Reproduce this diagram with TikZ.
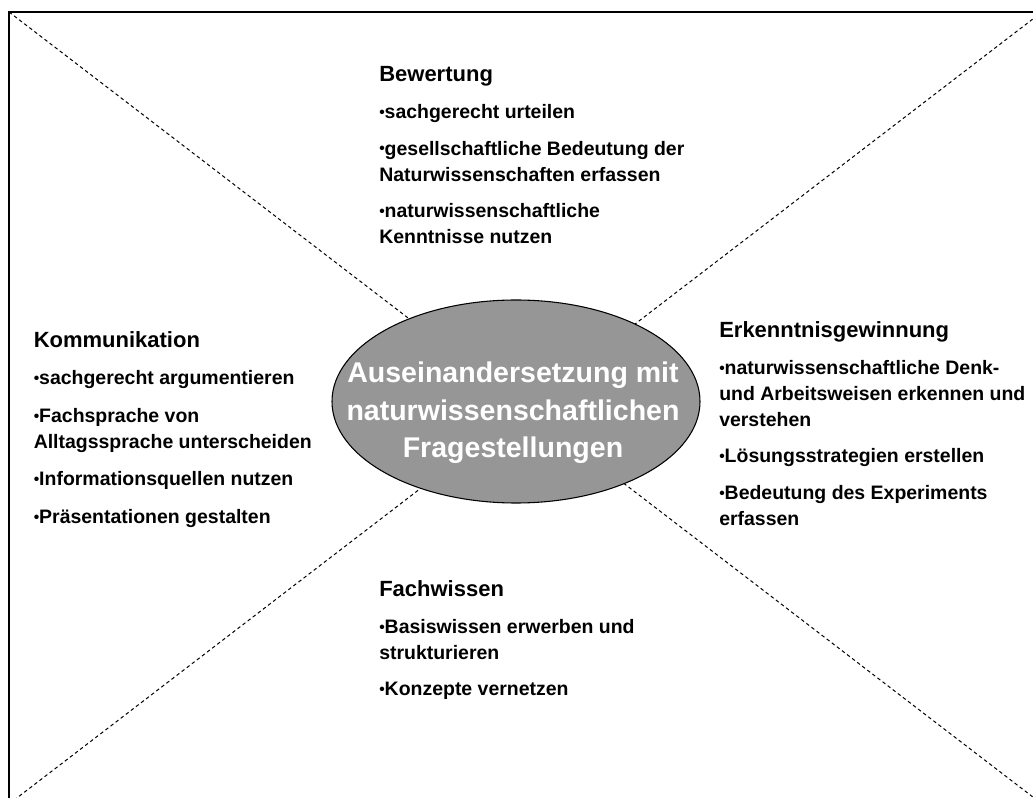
\documentclass[tikz,border=0pt]{standalone}
\usepackage{fontspec}
\usepackage{graphicx}
\setmainfont{Liberation Sans}
\usetikzlibrary{shapes.geometric}
\newcommand{\dotitem}{\raisebox{0.06em}{\scalebox{0.8}{\textbullet}}}
\newcommand{\headsize}{\fontsize{16.5}{19.5}\selectfont}

\begin{document}
\begin{tikzpicture}[x=0.75pt,y=-0.75pt,
  diag/.style={dash pattern=on 2.6pt off 2.2pt,line width=0.75pt},
  block/.style={anchor=north west,inner sep=0pt,align=left,
    font=\fontsize{14.6}{19.5}\selectfont\bfseries},
  core/.style={ellipse,draw,fill=black!41,line width=0.8pt,
    minimum width=276pt,minimum height=152.25pt,inner sep=0pt}]

\useasboundingbox (0,0) rectangle (1033,798);
\clip (0,0) rectangle (1033,798);

% frame and diagonals
\coordinate (tl) at (9,12);
\coordinate (tr) at (1042,12);
\coordinate (bl) at (9,804);
\coordinate (br) at (1042,804);
\draw[line width=0.8pt] (tl) rectangle (br);
\foreach \a/\b in {tl/br,bl/tr}{%
\draw[diag] (\a) -- (\b);
}

% centre
\node[core] (core) at (516,401.5) {};
\node[text=white,align=center,inner sep=0pt,
  font=\fontsize{21.4}{28.1}\selectfont\bfseries] (coretext) at (513,413)
  {Auseinandersetzung mit\\naturwissenschaftlichen\\Fragestellungen};

% the four fields
\node[block] (bewertung) at (379,66)
  {{\headsize Bewertung}\\[8.25pt]
   \dotitem sachgerecht urteilen\\[8pt]
   \dotitem gesellschaftliche Bedeutung der\\
   Naturwissenschaften erfassen\\[8pt]
   \dotitem naturwissenschaftliche\\
   Kenntnisse nutzen};

\node[block] (kommunikation) at (33.5,331)
  {{\headsize Kommunikation}\\[8.75pt]
   \dotitem sachgerecht argumentieren\\[8.5pt]
   \dotitem Fachsprache von\\
   Alltagssprache unterscheiden\\[8.5pt]
   \dotitem Informationsquellen nutzen\\[9pt]
   \dotitem Präsentationen gestalten};

\node[block] (erkenntnis) at (719,321)
  {{\headsize Erkenntnisgewinnung}\\[8.25pt]
   \dotitem naturwissenschaftliche Denk-\\
   und Arbeitsweisen erkennen und\\
   verstehen\\[8pt]
   \dotitem Lösungsstrategien erstellen\\[8pt]
   \dotitem Bedeutung des Experiments\\
   erfassen};

\node[block] (fachwissen) at (379,580)
  {{\headsize Fachwissen}\\[8.25pt]
   \dotitem Basiswissen erwerben und\\
   strukturieren\\[8pt]
   \dotitem Konzepte vernetzen};

\end{tikzpicture}
\end{document}
